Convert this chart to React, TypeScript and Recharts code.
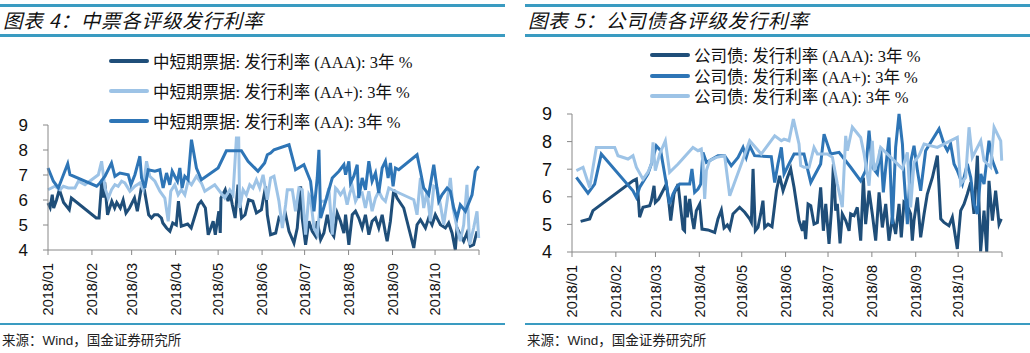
import { LineChart, Line, XAxis, YAxis, Legend } from 'recharts';

// day offsets from 2018-01-01, issuance rates in %
const monthStarts = [0, 31, 59, 90, 120, 151, 181, 212, 243, 273, 304];
const monthLabels = ['2018/01', '2018/02', '2018/03', '2018/04', '2018/05', '2018/06', '2018/07', '2018/08', '2018/09', '2018/10', ''];
const rateTicks = [4, 5, 6, 7, 8, 9];

const mtnNames = ['中短期票据: 发行利率 (AAA): 3年  %', '中短期票据: 发行利率 (AA+): 3年  %', '中短期票据: 发行利率 (AA): 3年  %'];
const bondNames = ['公司债: 发行利率 (AAA): 3年  %', '公司债: 发行利率 (AA+): 3年  %', '公司债: 发行利率 (AA): 3年  %'];

const mtnAAA: [number, number][] = [
  [0, 5.88], [1.5, 5.7], [3, 6.21], [4, 5.68], [6, 6.0], [8, 6.41], [11, 5.9], [15, 5.61], [16.5, 6.08], [34, 5.28],
  [36, 5.28], [38, 6.81], [39, 6.1], [40, 6.7], [42, 5.41], [45, 5.95], [47, 5.68], [48.5, 5.9], [51, 5.68], [53, 6.0],
  [55, 5.48], [57.5, 5.68], [61, 6.08], [63, 5.55], [66, 6.55], [68, 6.4], [71, 5.41], [73, 5.28], [75, 5.41], [77.5, 5.41],
  [80, 5.28], [81, 5.08], [83.6, 4.88], [86, 4.75], [88, 5.08], [90.5, 5.0], [92, 5.95], [94, 4.95], [98.5, 5.04], [101, 4.88],
  [106, 5.81], [108, 5.95], [111, 5.68], [113, 4.61], [114, 4.75], [116.5, 5.15], [118, 4.61], [119, 5.0], [120.5, 5.55], [121.5, 4.68],
  [122, 6.08], [125, 6.41], [127, 5.95], [128.5, 6.28], [130, 5.81], [132, 5.28], [134, 6.61], [136.5, 5.28], [139, 5.41], [141.5, 6.01],
  [144.5, 5.95], [147, 5.48], [150.5, 5.61], [153.5, 6.55], [154.7, 5.41], [157, 4.61], [160.6, 4.68], [162.9, 5.28], [165.3, 5.15], [167.6, 5.41],
  [170, 4.75], [173.5, 4.28], [175.8, 4.88], [178.2, 6.55], [179.3, 5.28], [181.7, 4.21], [184, 5.15], [186.4, 4.75], [188.7, 4.55], [189.9, 5.15],
  [192.3, 4.41], [194.6, 4.68], [197, 5.41], [199.3, 4.75], [201.6, 4.55], [204, 5.48], [206.3, 5.15], [208.7, 4.68], [209.9, 5.41], [212.2, 4.21],
  [214.6, 5.41], [216.9, 5.55], [219.2, 5.28], [221.6, 4.88], [223.9, 5.41], [226.3, 4.61], [228.6, 5.15], [231, 5.28], [233.3, 4.88], [235.7, 5.41],
  [238, 4.68], [239.2, 4.35], [241.5, 5.15], [242.7, 5.81], [243.9, 6.41], [246.2, 6.08], [250.9, 5.68], [258, 4.08], [260.3, 5.01], [262.7, 5.21],
  [266.2, 4.88], [268.5, 5.28], [270.9, 5.01], [273.2, 5.41], [276.8, 5.01], [280.3, 4.88], [282.6, 5.08], [285, 4.68], [287.3, 4.0], [288.5, 4.88],
  [290.8, 4.61], [293.2, 4.35], [295.5, 4.68], [297.9, 4.15], [300.2, 4.21], [302.6, 4.75],
];

const mtnAAPlus: [number, number][] = [
  [0, 6.41], [4.9, 6.55], [8.5, 6.41], [10.8, 6.55], [14.3, 6.48], [19, 6.48], [21.4, 6.75], [26.1, 6.61], [30.8, 6.81], [35.5, 7.01],
  [37.8, 7.55], [40.2, 6.48], [42.5, 6.08], [44.8, 6.41], [47.2, 6.61], [49.5, 6.55], [51.9, 6.75], [54.2, 6.68], [57.8, 6.35], [61.3, 6.55],
  [64.8, 6.68], [67.1, 6.41], [69.5, 7.55], [71.8, 6.95], [75.4, 6.75], [78.9, 6.35], [82.4, 6.08], [84.8, 5.15], [86.6, 6.35], [89.4, 6.61],
  [91.8, 6.21], [94.1, 6.41], [96.5, 6.21], [98.8, 6.75], [101.2, 6.61], [104.7, 6.95], [108.2, 6.68], [110.6, 6.35], [114.1, 6.48], [117.6, 6.61],
  [121.1, 6.35], [124.7, 6.08], [128.2, 6.41], [130.5, 6.21], [132.9, 8.48], [134.5, 8.48], [135.2, 5.68], [137.6, 6.41], [139.9, 6.21], [142.3, 6.61],
  [144.6, 6.48], [147, 6.81], [149.3, 6.48], [151.7, 7.01], [154.7, 6.01], [157, 6.88], [159.4, 6.95], [162.9, 5.95], [165.3, 4.88], [167.6, 5.81],
  [168.8, 6.41], [172.3, 6.41], [174.6, 5.55], [177, 6.48], [179.3, 6.41], [181.7, 4.61], [184, 6.21], [185.2, 6.08], [187.6, 4.88], [189.9, 4.61],
  [192.3, 5.95], [195.8, 5.95], [198.1, 6.48], [200.5, 4.61], [202.8, 6.48], [204, 6.41], [206.3, 6.21], [208.7, 6.41], [211, 5.81], [212.9, 6.28],
  [214.6, 6.55], [216.9, 5.95], [219.2, 6.21], [221.6, 6.28], [223.9, 5.68], [226.3, 6.35], [228.6, 5.55], [231, 6.08], [233.3, 6.35], [235.7, 6.08],
  [238, 5.95], [240.4, 6.48], [242.7, 6.41], [258, 6.01], [260.3, 5.41], [262.7, 6.88], [265, 5.68], [267.4, 6.35], [269.7, 5.15], [272.1, 6.55],
  [274.4, 6.48], [276.8, 5.81], [279.1, 5.01], [281.5, 5.95], [283.8, 6.88], [285.7, 5.68], [288.5, 4.88], [290.8, 4.35], [293.2, 5.01], [295.5, 6.61],
  [297.4, 4.21], [300.2, 4.88], [302.6, 5.55], [303.8, 4.48],
];

const mtnAA: [number, number][] = [
  [0, 7.28], [3.8, 6.75], [7.3, 6.48], [13.9, 7.45], [15.5, 7.01], [34.3, 6.55], [36.6, 6.68], [40.2, 6.95], [44.8, 7.48], [47.2, 6.95],
  [50.7, 7.08], [56.6, 7.01], [58.5, 6.61], [61.3, 7.01], [64.8, 7.75], [66, 6.88], [68.3, 6.48], [70.7, 7.21], [75.4, 7.15], [78.9, 7.21],
  [80.1, 6.81], [81.2, 6.48], [83.6, 7.08], [85.9, 6.61], [87.6, 7.15], [89.4, 6.95], [91.3, 6.75], [93, 7.28], [94.6, 6.48], [96.5, 6.95],
  [98.8, 6.81], [101.2, 8.41], [104.7, 7.28], [108.2, 6.81], [120, 7.28], [125.8, 7.97], [136.4, 7.97], [141.1, 7.55], [148.1, 7.15], [152.8, 7.48],
  [154.7, 7.81], [157, 7.88], [159.4, 8.01], [170, 8.21], [174.6, 7.21], [180.5, 7.41], [185.2, 6.75], [187.6, 5.55], [189.9, 6.88], [191.1, 8.01],
  [192.3, 5.28], [195.8, 5.95], [200.5, 6.88], [205.2, 7.15], [208.7, 7.41], [209.9, 7.01], [212.2, 7.55], [213.4, 6.68], [215.7, 6.95], [218.1, 7.41],
  [219.2, 6.08], [221.6, 6.88], [223.9, 6.41], [226.3, 7.55], [228.6, 6.75], [231, 7.08], [233.3, 6.28], [235.7, 7.28], [238, 7.55], [239.9, 6.88],
  [241.5, 7.48], [243.4, 6.55], [245.1, 7.28], [247.4, 7.21], [260.3, 7.81], [262.7, 7.15], [265, 6.48], [268.5, 6.21], [269.7, 6.61], [272.1, 7.41],
  [275.6, 5.95], [277.9, 6.21], [281.5, 6.48], [283.8, 6.35], [286.2, 5.68], [288.5, 5.28], [290.8, 5.81], [294.4, 5.55], [299.1, 6.21], [301.4, 7.15],
  [303.8, 7.35],
];

const bondAAA: [number, number][] = [
  [6.1, 5.11], [12.5, 5.2], [14.8, 5.5], [43.1, 6.58], [45.5, 6.64], [46.7, 6.1], [47.8, 5.26], [50.2, 5.62], [54.9, 5.68], [56.1, 5.86],
  [58, 6.4], [58.9, 5.8], [61.3, 5.92], [64.3, 6.22], [66.7, 6.46], [68.6, 5.74], [69.8, 5.14], [72.1, 6.1], [75, 6.46], [77.3, 5.38],
  [78.5, 4.83], [79.6, 4.77], [80.1, 6.04], [81.5, 5.26], [83.2, 5.92], [84.8, 5.26], [86.2, 4.83], [87.9, 5.5], [90.3, 5.74], [91.9, 4.83],
  [96.1, 4.8], [100.9, 4.71], [103.2, 5.2], [105.6, 5.52], [107.5, 4.87], [109.8, 4.98], [111.5, 4.83], [113.8, 5.38], [118.5, 5.62], [122.1, 5.44],
  [125.6, 5.2], [126.8, 5.08], [128, 7.01], [129.6, 4.77], [131.5, 4.89], [133.4, 5.38], [135, 5.86], [136.2, 4.89], [138.6, 5.01], [141.4, 4.92],
  [144.5, 6.22], [146.8, 6.76], [149.2, 6.22], [152.3, 6.7], [154.6, 7.01], [157, 6.34], [160.5, 5.14], [162.9, 4.77], [164, 5.14], [165.2, 4.47],
  [166.9, 5.74], [168.8, 5.68], [171.1, 5.01], [173.5, 5.07], [175.8, 6.34], [177.7, 4.77], [179.4, 5.74], [181.7, 4.29], [183.4, 5.5], [184.8, 7.19],
  [186.4, 5.5], [187.6, 5.74], [189.5, 4.31], [191.1, 5.38], [193.5, 5.14], [195.9, 4.77], [197, 5.38], [199.4, 5.32], [201.7, 5.62], [204.1, 4.41],
  [206, 6.7], [207.6, 5.01], [210, 6.22], [212.3, 5.38], [214.7, 4.41], [217.1, 6.16], [219.4, 4.89], [221.8, 5.74], [224.1, 4.41], [226.5, 5.26],
  [228.8, 4.65], [231.2, 5.74], [232.8, 4.53], [234.7, 5.8], [237.1, 5.68], [239.4, 5.38], [240.6, 4.41], [241.8, 5.14], [244.2, 5.98], [246.5, 4.53],
  [248.9, 5.38], [251.2, 6.1], [254.8, 6.7], [258.3, 7.49], [260.7, 5.2], [263, 5.07], [266.5, 4.95], [268.9, 5.26], [272.4, 4.11], [274.8, 5.5],
  [277.2, 5.74], [279.5, 6.1], [281.9, 6.52], [284.2, 5.38], [286.6, 7.49], [288.9, 4.02], [291.3, 5.5], [293.2, 4.0], [294.8, 6.58], [297.2, 5.14],
  [299.5, 6.22], [301.9, 5.01], [303.5, 5.2],
];

const bondAAPlus: [number, number][] = [
  [3.1, 6.7], [11.3, 6.13], [16, 6.46], [20.7, 7.55], [43.1, 6.22], [45.5, 5.98], [47.8, 6.34], [53.7, 6.83], [56.1, 7.19], [59.6, 7.85],
  [62.7, 7.67], [64.3, 7.19], [66.7, 6.46], [69, 5.74], [71.4, 6.1], [73.8, 6.34], [76.1, 6.46], [80.8, 6.46], [83.2, 6.46], [84.8, 7.01],
  [86.7, 6.16], [89.1, 6.28], [91, 6.46], [92.6, 7.61], [95, 7.25], [97.3, 7.31], [103.2, 7.49], [107.9, 7.49], [112.6, 7.13], [117.4, 7.43],
  [120.9, 7.79], [123.2, 7.43], [125.6, 7.85], [129.1, 7.49], [140.9, 7.45], [143.3, 6.52], [145.6, 7.19], [148, 7.79], [149.9, 6.83], [153.4, 7.19],
  [157, 7.55], [164, 7.55], [168.8, 6.52], [175.8, 7.19], [178.2, 8.27], [182.9, 7.55], [188.8, 7.61], [197, 7.07], [204.1, 6.58], [207.6, 6.95],
  [210, 8.4], [212.3, 7.07], [215.9, 6.83], [218.2, 7.79], [220.1, 6.16], [221.8, 7.07], [224.1, 8.15], [226.5, 5.01], [228.8, 7.79], [231.2, 9.0],
  [233.6, 7.91], [234.7, 6.76], [237.1, 5.01], [239.4, 7.25], [241.8, 7.85], [244.2, 6.95], [246.5, 6.22], [250, 7.67], [259.5, 8.46], [263, 7.91],
  [265.4, 7.67], [267.7, 7.91], [270.1, 7.19], [272.4, 6.95], [276, 6.46], [279.5, 7.19], [281.9, 6.7], [284.2, 5.74], [286.6, 5.38], [289, 6.83],
  [291.3, 6.46], [294.8, 8.03], [297.2, 7.31], [300.7, 6.83],
];

const bondAA: [number, number][] = [
  [3.1, 6.95], [7.8, 7.07], [12.5, 6.34], [17.2, 7.79], [30.2, 7.79], [32.5, 7.49], [39.6, 7.37], [43.1, 7.49], [45.5, 7.07], [50.2, 6.64],
  [53.7, 6.89], [56.1, 7.19], [57.3, 7.97], [58.9, 6.95], [62, 7.55], [66, 8.03], [69, 6.89], [75, 7.19], [85.5, 7.79], [89.1, 7.67],
  [91.4, 7.73], [92.6, 7.25], [93.8, 5.92], [95, 6.95], [97.3, 7.31], [102, 7.43], [107.9, 7.49], [111.5, 6.04], [119.7, 7.19], [125.6, 8.03],
  [133.8, 7.55], [143.3, 8.21], [148, 8.03], [149.9, 8.09], [153.4, 8.03], [156.5, 8.82], [160.5, 7.91], [161.7, 7.13], [164, 7.07], [167.6, 7.07],
  [171.1, 7.79], [173.5, 7.55], [180.5, 7.55], [184.1, 7.43], [187.6, 6.46], [191.1, 5.62], [193.5, 8.21], [194.7, 7.67], [198.2, 8.52], [204.1, 8.15],
  [206.5, 7.55], [210, 6.4], [212.3, 8.03], [213.5, 6.95], [215.9, 7.25], [218.2, 7.79], [227.7, 7.31], [233.6, 7.01], [237.1, 7.61], [239.4, 5.62],
  [241.8, 7.25], [245.3, 7.49], [248.9, 7.91], [258.3, 7.79], [272.4, 8.15], [274.8, 6.46], [278.3, 6.7], [280.7, 8.52], [283, 7.43], [289, 8.03],
  [291.3, 7.31], [296, 7.07], [298.4, 8.52], [303.1, 8.03], [303.8, 7.31],
];

const DARK = '#1F4E79';
const MID = '#2E75B6';
const LIGHT = '#9DC3E6';
const RULE = '#3A9BC1';

const toPoints = (rows: [number, number][]) => rows.map(([day, rate]) => ({ day, rate }));

const cjk = '"Noto Sans CJK SC", sans-serif';
const serifMix = '"Liberation Serif", "Noto Sans CJK SC", serif';
const arial = '"Liberation Sans", Arial, sans-serif';

const MonthTick = (props: any) => {
  const { x, y, payload } = props;
  const label = monthLabels[monthStarts.indexOf(payload.value)] ?? '';
  const ty = y + 6;
  return (
    <text x={x} y={ty} transform={`rotate(-90 ${x} ${ty})`} textAnchor="end" dy="0.36em"
      fontSize={14.5} fontFamily={arial} fill="#111">
      {label}
    </text>
  );
};

// legend rows follow the series order given in names
const makeLegend = (rowHeight: number, names: string[]) => (props: any) => {
  const items = [...(props.payload || [])].sort((a: any, b: any) => names.indexOf(a.value) - names.indexOf(b.value));
  return (
    <div style={{ fontFamily: serifMix, fontSize: 16.5, color: '#111' }}>
      {items.map((entry: any) => (
        <div key={entry.value} style={{ display: 'flex', alignItems: 'center', height: rowHeight, whiteSpace: 'nowrap' }}>
          <span style={{ display: 'inline-block', width: 40, height: 4, borderRadius: 2, background: entry.color, marginRight: 4 }} />
          <span>{entry.value}</span>
        </div>
      ))}
    </div>
  );
};

interface PanelProps {
  left: number;
  title: string;
  names: string[];
  series: [number, number][][];
  colors: string[];
  margin: { top: number; right: number; left: number; bottom: number };
  legendPos: { left: number; top: number };
  legendRow: number;
  yFont: number;
}

function Panel({ left, title, names, series, colors, margin, legendPos, legendRow, yFont }: PanelProps) {
  const ruleLeft = left === 0 ? 0 : 10;
  return (
    <div style={{ position: 'absolute', left, top: 0, width: 515, height: 353 }}>
      <div style={{ position: 'absolute', left: ruleLeft, top: 4, width: 505, height: 2.5, background: RULE }} />
      <div style={{ position: 'absolute', left: ruleLeft + 3, top: 6, height: 28, lineHeight: '28px', fontFamily: cjk, fontStyle: 'italic', fontSize: 19.5, letterSpacing: 0.8, color: '#111', whiteSpace: 'nowrap' }}>
        {title}
      </div>
      <div style={{ position: 'absolute', left: ruleLeft, top: 34, width: 505, height: 2.5, background: RULE }} />
      <div style={{ position: 'absolute', left: 0, top: 0 }}>
        <LineChart width={left === 0 ? 505 : 515} height={353} margin={margin}>
          <XAxis type="number" dataKey="day" domain={[0, 304]} ticks={monthStarts} interval={0}
            height={70} tick={<MonthTick />} tickSize={5} stroke="#888" allowDuplicatedCategory={false} />
          <YAxis type="number" dataKey="rate" domain={[4, 9]} ticks={rateTicks} width={40} tickSize={5} tickMargin={15}
            stroke="#888" tick={{ fontSize: yFont, fill: '#111', fontFamily: arial }} />
          <Legend layout="vertical" align="center" verticalAlign="middle" content={makeLegend(legendRow, names)}
            wrapperStyle={{ left: legendPos.left, top: legendPos.top, width: 'auto', height: 'auto' }} />
          {series.map((rows, i) => (
            <Line key={names[i]} data={toPoints(rows)} dataKey="rate" name={names[i]} type="linear"
              stroke={colors[i]} strokeWidth={3} dot={false} activeDot={false} isAnimationActive={false} />
          ))}
        </LineChart>
      </div>
      <div style={{ position: 'absolute', left: ruleLeft, top: 322.5, width: 505, height: 2.5, background: RULE }} />
      <div style={{ position: 'absolute', left: ruleLeft + 2, top: 329, fontFamily: cjk, fontSize: 13.5, color: '#222', whiteSpace: 'nowrap' }}>
        来源：<span style={{ fontFamily: arial }}>Wind</span>，国金证券研究所
      </div>
    </div>
  );
}

export default function App() {
  return (
    <div style={{ position: 'absolute', left: 0, top: 0, width: 1030, height: 353, background: '#fff', overflow: 'hidden' }}>
      <Panel left={0} title="图表 4：中票各评级发行利率" names={mtnNames} series={[mtnAAA, mtnAAPlus, mtnAA]}
        colors={[DARK, LIGHT, MID]} margin={{ top: 125, right: 26, left: 8, bottom: 33 }}
        legendPos={{ left: 109, top: 46 }} legendRow={30} yFont={17} />
      <Panel left={515} title="图表 5：公司债各评级发行利率" names={bondNames} series={[bondAAA, bondAAPlus, bondAA]}
        colors={[DARK, MID, LIGHT]} margin={{ top: 114, right: 28, left: 17, bottom: 31 }}
        legendPos={{ left: 135, top: 45 }} legendRow={20.5} yFont={18} />
    </div>
  );
}
